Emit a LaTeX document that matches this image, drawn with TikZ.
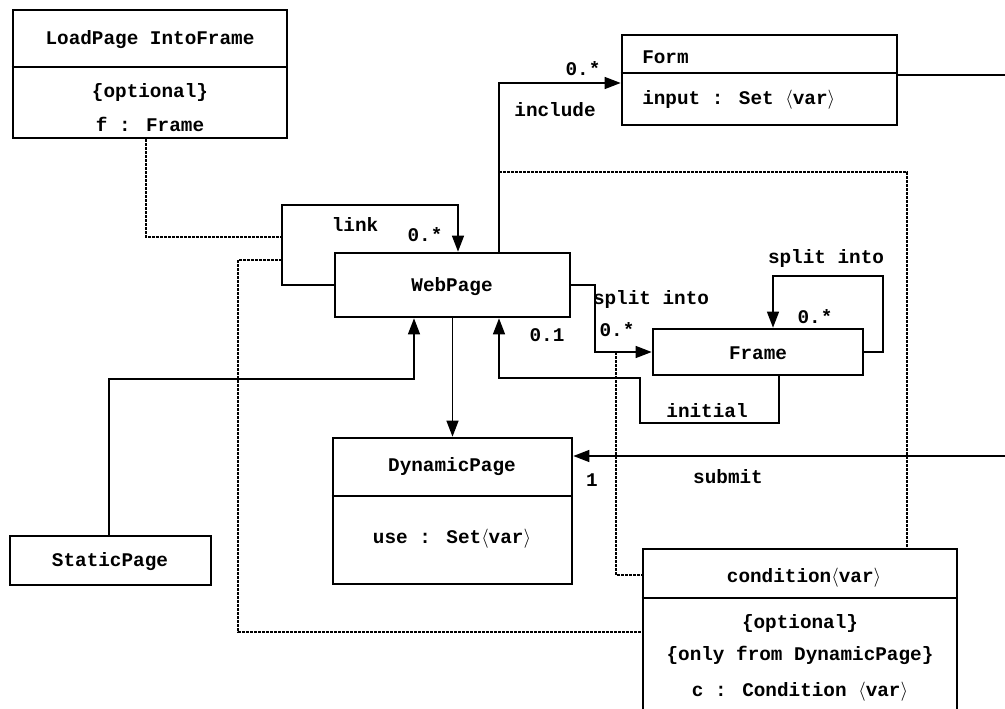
\documentclass[tikz,border=0pt]{standalone}
\usepackage{fontspec}
\setmainfont{Liberation Mono}
\usetikzlibrary{arrows.meta,fit}

\newcommand{\var}{\ensuremath{\langle}var\ensuremath{\rangle}}

\begin{document}
\begin{tikzpicture}[x=0.75pt,y=-0.75pt,
	every node/.style={font=\fontsize{14.5}{17}\selectfont\bfseries,inner sep=0pt},
	cls/.style={draw,line width=2pt,inner sep=0pt},
	div/.style={line width=2pt},
	arr/.style={line width=1pt,-{Triangle[length=12pt,width=9pt]}},
	dep/.style={line width=0.8pt,dash pattern=on 2pt off 1pt}]

\useasboundingbox (0,0) rectangle (1005,709);
\clip (0,0) rectangle (1005,709);

% classes
\node (load) [cls,fit={(13,10) (287,138)}] {};
\coordinate (loadd) at (0,67);
\draw[div] (loadd -| load.west) -- (loadd -| load.east);
\node (loadT) at (150,40) {LoadPage IntoFrame};
\node (loadO) at (150,93) {\{optional\}};
\node (loadF) at (150,124) {f : Frame};

\node (form) [cls,fit={(622,35) (897,125)}] {};
\coordinate (formd) at (0,73);
\draw[div] (formd -| form.west) -- (formd -| form.east);
\node (formT) at (642,57) [anchor=west] {Form};
\node (formI) at (642,100) [anchor=west] {input : Set \var};

\node (web) [cls,fit={(335,253) (570,317)}] {};
\node (webT) at (452,287) {WebPage};
\node (frame) [cls,fit={(653,329) (863,375)}] {};
\node (frameT) at (758,353) {Frame};
\node (static) [cls,fit={(10,536) (211,585)}] {};
\node (staticT) at (110,562) {StaticPage};

\node (dyn) [cls,fit={(333,438) (572,584)}] {};
\coordinate (dynd) at (0,496);
\draw[div] (dynd -| dyn.west) -- (dynd -| dyn.east);
\node (dynT) at (452,467) {DynamicPage};
\node (dynU) at (452,539) {use : Set\var};

\node (cond) [cls,fit={(643,549) (957,730)}] {};
\coordinate (condd) at (0,598);
\draw[div] (condd -| cond.west) -- (condd -| cond.east);
\node (condT) at (804,578) {condition\var};
\node (condO) at (800,623) {\{optional\}};
\node (condD) at (800,655) {\{only from DynamicPage\}};
\node (condC) at (800,692) {c : Condition \var};

% associations
\coordinate (lk1) at (282,205);
\coordinate (lk2) at (458,205);
\draw[arr] (web.west) -| (lk1) -- (lk2) -- (lk2 |- web.north);
\node (lkL) at (355,224) {link};
\node (lkM) at (425,235) {0.*};

\coordinate (inc) at (499,83);
\draw[arr] (inc |- web.north) -- (inc) -- (inc -| form.west);
\node (incM) at (583,69) {0.*};
\node (incL) at (555,110) {include};

\coordinate (fr) at (1010,75);
\draw[line width=1pt] (fr -| form.east) -- (fr);

\coordinate (sp) at (595,352);
\draw[arr] (web.east) -| (sp) -- (frame.west);
\node (spL) at (651,299) {split into};
\node (spM) at (617,330) {0.*};

\coordinate (sf1) at (883,276);
\coordinate (sf2) at (773,276);
\draw[arr] (frame.east) -| (sf1) -- (sf2) -- (sf2 |- frame.north);
\node (sfL) at (826,259) {split into};
\node (sfM) at (815,317) {0.*};

\coordinate (in1) at (779,423);
\coordinate (in2) at (640,378);
\coordinate (in3) at (499,378);
\draw[arr] (in1 |- frame.south) -- (in1) -| (in2) -- (in3) -- (in3 |- web.south);
\node (inL) at (707,411) {initial};
\node (inM) at (547,335) {0.1};

\coordinate (st1) at (109,379);
\coordinate (st2) at (414,379);
\draw[arr] (st1 |- static.north) -- (st1) -- (st2) -- (st2 |- web.south);

\draw[arr] (web.south) -- (dyn.north);

\coordinate (sb) at (1010,456);
\draw[arr] (sb) -- (sb -| dyn.east);
\node (sbM) at (592,480) {1};
\node (sbL) at (728,477) {submit};

% dependencies
\coordinate (ld1) at (146,237);
\coordinate (ld2) at (282,237);
\draw[dep] (ld1 |- load.south) -- (ld1) -- (ld2);

\coordinate (dl1) at (282,260);
\coordinate (dl2) at (238,632);
\draw[dep] (dl1) -| (dl2) -- (dl2 -| cond.west);

\coordinate (dt1) at (499,172);
\coordinate (dt2) at (907,172);
\draw[dep] (dt1) -- (dt2) -- (dt2 |- cond.north);

\coordinate (cd1) at (616,352);
\coordinate (cd2) at (616,575);
\draw[dep] (cd1) -- (cd2) -- (cd2 -| cond.west);

\end{tikzpicture}
\end{document}
